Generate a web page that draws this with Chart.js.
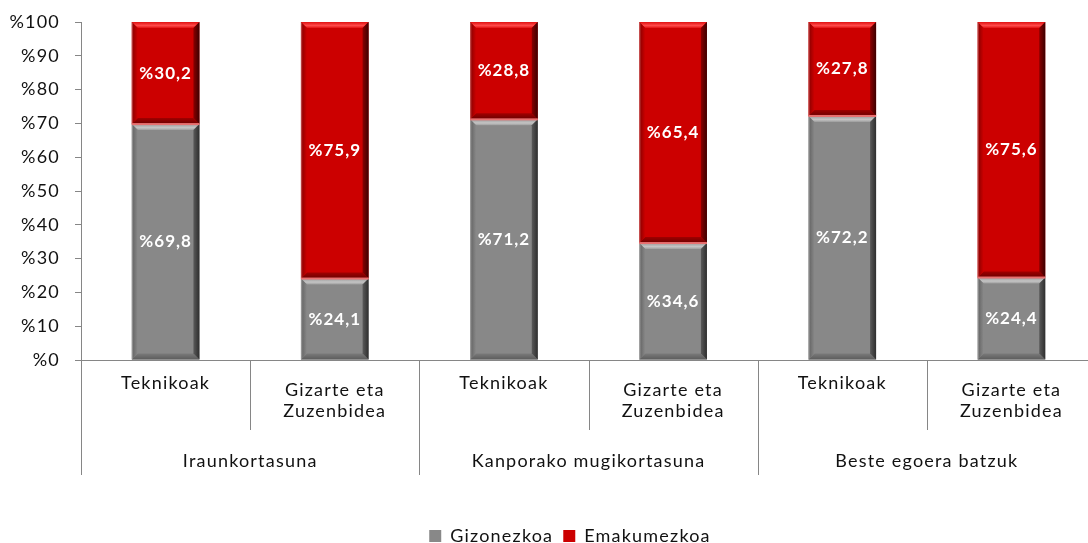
<!DOCTYPE html>
<html><head><meta charset="utf-8">
<script src="https://cdn.jsdelivr.net/npm/chart.js@4/dist/chart.umd.min.js"></script>
<style>html,body{margin:0;padding:0;background:#fff;overflow:hidden}#wrap{width:1088px;height:543px;overflow:hidden}</style>
</head><body><div id="wrap"><canvas id="c" width="1096" height="543"></canvas></div>
<script>
const categories = [['Teknikoak'], ['Gizarte eta','Zuzenbidea'], ['Teknikoak'], ['Gizarte eta','Zuzenbidea'], ['Teknikoak'], ['Gizarte eta','Zuzenbidea']];
const groups = ['Iraunkortasuna', 'Kanporako mugikortasuna', 'Beste egoera batzuk'];
const gizonezkoa = [69.8, 24.1, 71.2, 34.6, 72.2, 24.4];
const emakumezkoa = [30.2, 75.9, 28.8, 65.4, 27.8, 75.6];
const seriesNames = ['Gizonezkoa', 'Emakumezkoa'];
const yTickValues = [0,10,20,30,40,50,60,70,80,90,100];

const FONT = 'Lato, "Open Sans", sans-serif';
const AXISC = '#868686';
const SPACING = '1.2px';

function fmt(v){ return '%' + v.toFixed(1).replace('.', ','); }

function trap(ctx, pts, fill){
  ctx.beginPath(); ctx.moveTo(pts[0][0],pts[0][1]);
  for (let i=1;i<pts.length;i++) ctx.lineTo(pts[i][0],pts[i][1]);
  ctx.closePath(); ctx.fillStyle = fill; ctx.fill();
}

const palettes = [
  {base:'#888888', top:['#c4c4c4','#9c9c9c'], left:['#a6a6a6','#6c6c6c'], right:['#5a5a5a','#2e2e2e'], bottom:['#7a7a7a','#5c5c5c']},
  {base:'#cc0000', top:['#ff4a4a','#e01010'], left:['#c46060','#9a0000'], right:['#8a0000','#3c0000'], bottom:['#a00000','#6a0000']}
];

const spacingPlugin = {
  id:'spacing',
  beforeLayout(chart){ chart.ctx.letterSpacing = SPACING; },
  beforeDraw(chart){ chart.ctx.letterSpacing = SPACING; }
};

const bevelPlugin = {
  id:'bevel',
  afterDatasetsDraw(chart){
    const ctx = chart.ctx;
    chart.data.datasets.forEach((ds, di) => {
      const meta = chart.getDatasetMeta(di);
      const p = palettes[di];
      meta.data.forEach(el => {
        const {x, y, base, width} = el.getProps(['x','y','base','width'], true);
        const L = x - width/2, R = x + width/2, T = Math.min(y, base), B = Math.max(y, base);
        const b = 6;
        ctx.save();
        let g = ctx.createLinearGradient(0, T, 0, T+b); g.addColorStop(0, p.top[1]); g.addColorStop(0.6, p.top[0]); g.addColorStop(1, p.top[1]);
        trap(ctx, [[L,T],[R,T],[R-b,T+b],[L+b,T+b]], g);
        g = ctx.createLinearGradient(0, B-b, 0, B); g.addColorStop(0, p.bottom[0]); g.addColorStop(1, p.bottom[1]);
        trap(ctx, [[L,B],[R,B],[R-b,B-b],[L+b,B-b]], g);
        g = ctx.createLinearGradient(L, 0, L+b, 0); g.addColorStop(0, p.left[0]); g.addColorStop(0.3, p.left[1]); g.addColorStop(1, p.base);
        trap(ctx, [[L,T],[L+b,T+b],[L+b,B-b],[L,B]], g);
        g = ctx.createLinearGradient(R-b, 0, R, 0); g.addColorStop(0, p.right[0]); g.addColorStop(1, p.right[1]);
        trap(ctx, [[R,T],[R-b,T+b],[R-b,B-b],[R,B]], g);
        if (di === 1) {
          ctx.fillStyle = '#e87070';
          ctx.fillRect(L, B-1, width, 2);
        }
        ctx.restore();
      });
    });
    ctx.save();
    ctx.letterSpacing = '1px';
    ctx.font = 'bold 17px ' + FONT;
    ctx.fillStyle = '#ffffff';
    ctx.textAlign = 'center'; ctx.textBaseline = 'middle';
    chart.data.datasets.forEach((ds, di) => {
      const meta = chart.getDatasetMeta(di);
      meta.data.forEach((el, i) => {
        const {x, y, base} = el.getProps(['x','y','base'], true);
        ctx.fillText(fmt(ds.data[i]), x, (y+base)/2);
      });
    });
    ctx.restore();
  }
};

const multiAxisPlugin = {
  id:'multiAxis',
  afterDraw(chart){
    const ctx = chart.ctx, xs = chart.scales.x, area = chart.chartArea;
    const n = categories.length;
    const step = xs.getPixelForValue(1) - xs.getPixelForValue(0);
    const y0 = area.bottom;
    ctx.save();
    ctx.letterSpacing = SPACING;
    ctx.strokeStyle = AXISC; ctx.lineWidth = 1;
    for (let i=0;i<=n;i++){
      const bx = Math.round(xs.getPixelForValue(0) - step/2 + i*step) + 0.5;
      const isGroup = i % 2 === 0;
      ctx.beginPath(); ctx.moveTo(bx, y0); ctx.lineTo(bx, y0 + (isGroup ? 115 : 70)); ctx.stroke();
    }
    ctx.fillStyle = '#111'; ctx.font = '18px ' + FONT;
    ctx.textAlign = 'center'; ctx.textBaseline = 'middle';
    categories.forEach((lab, i) => {
      const cx = xs.getPixelForValue(i);
      if (lab.length === 1) ctx.fillText(lab[0], cx, y0 + 23);
      else { ctx.fillText(lab[0], cx, y0 + 30); ctx.fillText(lab[1], cx, y0 + 51); }
    });
    groups.forEach((g, gi) => {
      const cx = (xs.getPixelForValue(gi*2) + xs.getPixelForValue(gi*2+1))/2;
      ctx.fillText(g, cx, y0 + 101);
    });
    ctx.restore();
  }
};

const legendShift = {
  id:'legendShift',
  afterLayout(chart){ const l = chart.legend; if (l) { l.top += 12; l.bottom += 12; l.left += 22; l.right += 22; } }
};

new Chart(document.getElementById('c'), {
  type:'bar',
  data:{
    labels: categories,
    datasets:[
      {label: seriesNames[0], data: gizonezkoa, backgroundColor: palettes[0].base, borderWidth:0},
      {label: seriesNames[1], data: emakumezkoa, backgroundColor: palettes[1].base, borderWidth:0}
    ]
  },
  options:{
    responsive:false, animation:false, devicePixelRatio:1,
    layout:{autoPadding:false, padding:{top:22, right:0, left:0, bottom:0}},
    datasets:{bar:{barPercentage:0.4, categoryPercentage:1}},
    plugins:{
      legend:{position:'bottom', labels:{boxWidth:12, boxHeight:12, padding:10, color:'#111', font:{family:FONT, size:18}}},
      tooltip:{enabled:false}
    },
    scales:{
      x:{stacked:true, grid:{display:false}, border:{color:AXISC}, ticks:{display:false},
         afterFit(s){ s.height = 145; s.paddingLeft = 0; s.paddingRight = 0; }},
      y:{stacked:true, min:0, max:100,
         afterBuildTicks(s){ s.ticks = yTickValues.map(v => ({value:v})); },
         ticks:{stepSize:10, padding:15, color:'#111', font:{family:FONT, size:18}, callback:v => '%' + v},
         grid:{drawOnChartArea:false, tickLength:6, color:AXISC}, border:{color:AXISC},
         afterFit(s){ s.width = 81; s.paddingTop = 0; s.paddingBottom = 0; }}
    }
  },
  plugins:[spacingPlugin, bevelPlugin, multiAxisPlugin, legendShift]
});
</script></body></html>
